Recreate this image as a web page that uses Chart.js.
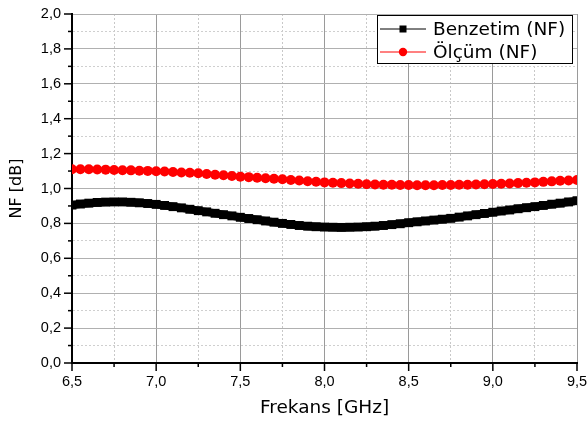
<!DOCTYPE html>
<html>
<head>
<meta charset="utf-8">
<script src="https://cdn.jsdelivr.net/npm/chart.js@4"></script>
<style>
  body { margin: 0; background: #fff; }
  #wrap { width: 588px; height: 421px; position: relative; }
</style>
</head>
<body>
<div id="wrap"><canvas id="nfChart"></canvas></div>
<script>
// frequency points (GHz)
const freq = [
  6.50, 6.55, 6.60, 6.65, 6.70, 6.75, 6.80, 6.85, 6.90, 6.95,
  7.00, 7.05, 7.10, 7.15, 7.20, 7.25, 7.30, 7.35, 7.40, 7.45,
  7.50, 7.55, 7.60, 7.65, 7.70, 7.75, 7.80, 7.85, 7.90, 7.95,
  8.00, 8.05, 8.10, 8.15, 8.20, 8.25, 8.30, 8.35, 8.40, 8.45,
  8.50, 8.55, 8.60, 8.65, 8.70, 8.75, 8.80, 8.85, 8.90, 8.95,
  9.00, 9.05, 9.10, 9.15, 9.20, 9.25, 9.30, 9.35, 9.40, 9.45,
  9.50
];

// simulated NF (dB)
const benzetim = [
  0.905, 0.911, 0.916, 0.920, 0.922, 0.923, 0.923, 0.921, 0.918, 0.914,
  0.909, 0.903, 0.896, 0.889, 0.881, 0.873, 0.866, 0.858, 0.850, 0.843,
  0.835, 0.828, 0.821, 0.814, 0.807, 0.800, 0.794, 0.788, 0.784, 0.781,
  0.779, 0.778, 0.777, 0.778, 0.779, 0.781, 0.784, 0.788, 0.793, 0.798,
  0.804, 0.809, 0.814, 0.819, 0.824, 0.829, 0.836, 0.843, 0.850, 0.857,
  0.864, 0.871, 0.877, 0.884, 0.890, 0.896, 0.903, 0.910, 0.916, 0.923,
  0.930
];

// measured NF (dB)
const olcum = [
  1.110, 1.110, 1.110, 1.109, 1.108, 1.106, 1.105, 1.104, 1.102, 1.101,
  1.099, 1.097, 1.095, 1.092, 1.090, 1.087, 1.083, 1.079, 1.076, 1.072,
  1.068, 1.065, 1.062, 1.059, 1.056, 1.053, 1.049, 1.046, 1.042, 1.039,
  1.035, 1.033, 1.031, 1.029, 1.027, 1.024, 1.023, 1.022, 1.021, 1.020,
  1.020, 1.019, 1.019, 1.019, 1.020, 1.020, 1.021, 1.022, 1.023, 1.024,
  1.026, 1.027, 1.029, 1.031, 1.033, 1.035, 1.038, 1.041, 1.044, 1.046,
  1.049
];

const seriesNames = ["Benzetim (NF)", "Ölçüm (NF)"];
const xTitle = "Frekans [GHz]";
const yTitle = "NF [dB]";

// comma decimals like the original
const fmt = v => v.toFixed(1).replace(".", ",");
const isMajorX = v => Math.round(v * 4) % 2 === 0;
const isMajorY = v => Math.round(v * 10) % 2 === 0;

Chart.defaults.color = "#000";

// small outward tick marks, long for major and short for minor
const tickMarks = {
  id: "tickMarks",
  afterDraw(chart) {
    const { ctx, chartArea, scales } = chart;
    ctx.save();
    ctx.strokeStyle = "#000";
    ctx.lineWidth = 1.5;
    scales.x.ticks.forEach(t => {
      const px = scales.x.getPixelForValue(t.value);
      const len = isMajorX(t.value) ? 8 : 4;
      ctx.beginPath();
      ctx.moveTo(px, chartArea.bottom);
      ctx.lineTo(px, chartArea.bottom + len);
      ctx.stroke();
    });
    scales.y.ticks.forEach(t => {
      const py = scales.y.getPixelForValue(t.value);
      const len = isMajorY(t.value) ? 8 : 4;
      ctx.beginPath();
      ctx.moveTo(chartArea.left, py);
      ctx.lineTo(chartArea.left - len, py);
      ctx.stroke();
    });
    ctx.restore();
  }
};

// legend box in the top right corner, line + marker + text
const boxLegend = {
  id: "boxLegend",
  afterDraw(chart) {
    const { ctx } = chart;
    const bx = 377, by = 15, bw = 195, bh = 48;
    ctx.save();
    ctx.fillStyle = "#fff";
    ctx.fillRect(bx, by, bw, bh);
    ctx.strokeStyle = "#000";
    ctx.lineWidth = 1;
    ctx.strokeRect(bx + 0.5, by + 0.5, bw, bh);

    const rows = [by + 14, by + 37];
    const lineCols = ["#000", "#ff8080"];
    chart.data.datasets.forEach((ds, i) => {
      const y = rows[i];
      ctx.strokeStyle = lineCols[i];
      ctx.lineWidth = i === 0 ? 1 : 2;
      ctx.beginPath();
      ctx.moveTo(380, y);
      ctx.lineTo(426, y);
      ctx.stroke();
      ctx.fillStyle = ds.pointBackgroundColor;
      if (i === 0) {
        ctx.fillRect(399.5, y - 3.5, 7, 7);
      } else {
        ctx.beginPath();
        ctx.arc(403, y, 4.2, 0, Math.PI * 2);
        ctx.fill();
      }
      ctx.fillStyle = "#000";
      ctx.font = "18.5px 'DejaVu Sans'";
      ctx.textBaseline = "middle";
      ctx.fillText(ds.label, 433, y + 1);
    });
    ctx.restore();
  }
};

new Chart(document.getElementById("nfChart"), {
  type: "line",
  data: {
    datasets: [
      {
        label: seriesNames[0],
        data: freq.map((f, i) => ({ x: f, y: benzetim[i] })),
        borderColor: "#000",
        borderWidth: 8,
        pointStyle: "rect",
        pointRadius: 6.3,
        pointBorderWidth: 0,
        pointBackgroundColor: "#000",
        pointBorderColor: "#000"
      },
      {
        label: seriesNames[1],
        data: freq.map((f, i) => ({ x: f, y: olcum[i] })),
        borderColor: "#ff2020",
        borderWidth: 1,
        pointStyle: "circle",
        pointRadius: 5,
        pointBorderWidth: 0,
        pointBackgroundColor: "#ff0000",
        pointBorderColor: "#ff0000"
      }
    ]
  },
  options: {
    responsive: true,
    maintainAspectRatio: false,
    animation: false,
    layout: { padding: { top: 14, right: 11, left: 0, bottom: 0 } },
    plugins: {
      legend: { display: false },
      tooltip: { enabled: false }
    },
    scales: {
      x: {
        type: "linear",
        min: 6.5,
        max: 9.5,
        ticks: {
          stepSize: 0.25,
          maxTicksLimit: 100,
          autoSkip: false,
          maxRotation: 0,
          padding: 10,
          font: { family: "'Liberation Sans'", size: 14.5 },
          callback: v => (isMajorX(v) ? fmt(v) : "")
        },
        grid: {
          drawTicks: false,
          lineWidth: 1,
          color: c => (c.tick && !isMajorX(c.tick.value) ? "#c8c8c8" : "#9a9a9a")
        },
        border: {
          display: true,
          color: "#000",
          width: 2,
          dash: c => (c.tick && !isMajorX(c.tick.value) ? [2, 2] : [])
        },
        title: {
          display: true,
          text: xTitle,
          font: { family: "'DejaVu Sans'", size: 18.5 },
          padding: { top: 0, bottom: 2 }
        },
        afterFit(s) {
          s.height = 58;
          s.paddingLeft = 0;
          s.paddingRight = 0;
        }
      },
      y: {
        min: 0,
        max: 2,
        ticks: {
          stepSize: 0.1,
          maxTicksLimit: 100,
          autoSkip: false,
          padding: 11,
          font: { family: "'Liberation Sans'", size: 14.5 },
          callback: v => (isMajorY(v) ? fmt(v) : "")
        },
        grid: {
          drawTicks: false,
          lineWidth: 1,
          color: c => (c.tick && !isMajorY(c.tick.value) ? "#cfcfcf" : "#b0b0b0")
        },
        border: {
          display: true,
          color: "#000",
          width: 2,
          dash: c => (c.tick && !isMajorY(c.tick.value) ? [2, 2] : [])
        },
        title: {
          display: true,
          text: yTitle,
          font: { family: "'DejaVu Sans'", size: 16 },
          padding: { top: 7, bottom: 0 }
        },
        afterFit(s) {
          s.width = 72;
          s.paddingTop = 0;
          s.paddingBottom = 0;
        }
      }
    }
  },
  plugins: [tickMarks, boxLegend]
});
</script>
</body>
</html>
